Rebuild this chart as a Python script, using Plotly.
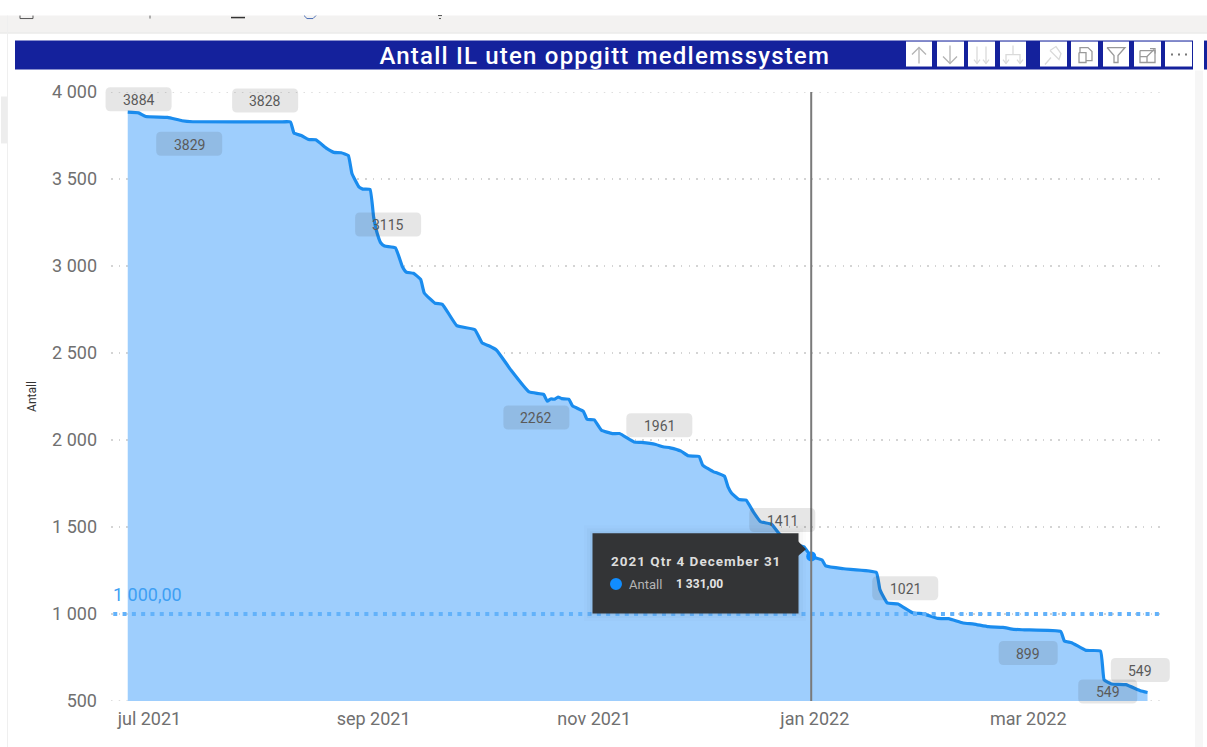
import plotly.graph_objects as go
from datetime import datetime

dates = """2021-06-25 2021-06-28 2021-06-30 2021-07-06 2021-07-10 2021-07-13 2021-08-06 2021-08-09 2021-08-10 2021-08-12 2021-08-14 2021-08-16
2021-08-19 2021-08-21 2021-08-23 2021-08-25 2021-08-26 2021-08-28 2021-08-29 2021-08-31 2021-09-01 2021-09-02
2021-09-03 2021-09-04 2021-09-07 2021-09-09 2021-09-10 2021-09-12 2021-09-14 2021-09-15 2021-09-18 2021-09-20
2021-09-24 2021-09-29 2021-10-01 2021-10-03 2021-10-05 2021-10-09 2021-10-14 2021-10-18 2021-10-19 2021-10-20
2021-10-21 2021-10-22 2021-10-23 2021-10-25 2021-10-26 2021-10-29 2021-10-30 2021-11-01 2021-11-03 2021-11-06
2021-11-08 2021-11-12 2021-11-14 2021-11-18 2021-11-20 2021-11-22 2021-11-25 2021-11-27 2021-11-30 2021-12-01
2021-12-04 2021-12-05 2021-12-07 2021-12-08 2021-12-09 2021-12-11 2021-12-13 2021-12-15 2021-12-17 2021-12-20
2021-12-22 2021-12-25 2021-12-29 2021-12-31 2022-01-03 2022-01-04 2022-01-09 2022-01-18 2022-01-19 2022-01-21
2022-01-24 2022-01-28 2022-01-31 2022-02-04 2022-02-07 2022-02-11 2022-02-14 2022-02-18 2022-02-22 2022-02-25
2022-02-28 2022-03-10 2022-03-11 2022-03-13 2022-03-17 2022-03-21 2022-03-22 2022-03-24 2022-03-28 2022-04-01
2022-04-03""".split()
antall = [3884, 3880, 3859, 3854, 3835, 3829, 3828, 3828, 3763, 3750, 3727, 3725,
          3676, 3653, 3651, 3635, 3532, 3453, 3442, 3440, 3281, 3187,
          3132, 3115, 3105, 2994, 2965, 2958, 2923, 2845, 2786, 2780,
          2657, 2634, 2558, 2540, 2516, 2401, 2276, 2262, 2223, 2236,
          2234, 2247, 2238, 2234, 2196, 2165, 2119, 2115, 2056, 2037,
          2037, 1989, 1986, 1974, 1961, 1955, 1936, 1909, 1905, 1855,
          1817, 1811, 1792, 1731, 1694, 1658, 1654, 1587, 1530, 1516,
          1465, 1411, 1386, 1331, 1310, 1277, 1260, 1239, 1140, 1064,
          1057, 1007, 1001, 975, 973, 948, 942, 927, 923, 912,
          909, 899, 845, 835, 791, 787, 621, 598, 594, 559,
          549]

label_dates = ["2021-06-28", "2021-07-12", "2021-08-02", "2021-09-05", "2021-10-16", "2021-11-19",
               "2021-12-23", "2022-01-26", "2022-03-01", "2022-04-01", "2022-03-23"]
label_values = [3884, 3829, 3828, 3115, 2262, 1961, 1411, 1021, 899, 549, 549]
label_dy = [-13, 22, -21.5, -21.5, 23, -21.5, -22.5, -22, 21.5, -22.5, -1]

threshold = 1000
threshold_label = "1 000,00"
threshold_span = ["2021-06-21", "2022-04-07"]
hover_date = "2021-12-31"
hover_value = 1331

y_ticks = [500, 1000, 1500, 2000, 2500, 3000, 3500, 4000]
y_ticktext = ["500", "1 000", "1 500", "2 000", "2 500", "3 000", "3 500", "4 000"]
x_ticks = ["2021-07-01", "2021-09-01", "2021-11-01", "2022-01-01", "2022-03-01"]
x_ticktext = ["jul 2021", "sep 2021", "nov 2021", "jan 2022", "mar 2022"]

W, H = 1207, 747
L, R, T, B = 111, 1162, 91.5, 701
X_RANGE = ["2021-06-20 09:00", "2022-04-07 00:00"]
FONT = "Roboto"
TITLE = "Antall IL uten oppgitt medlemssystem"
TIP_HEAD = "2021 Qtr 4 December 31"

def X(p): return (p - L) / (R - L)
def Y(p): return (B - p) / (B - T)

_d0 = datetime.fromisoformat(X_RANGE[0])
_d1 = datetime.fromisoformat(X_RANGE[1])
def date_px(d):
    return L + (datetime.fromisoformat(d) - _d0) / (_d1 - _d0) * (R - L)
def value_px(v):
    return B - (v - 500) / 3500 * (B - T)

shapes = []
annots = []

def rect(x0, y0, x1, y1, color, layer="above"):
    shapes.append(dict(type="rect", xref="paper", yref="paper", x0=X(x0), x1=X(x1), y0=Y(y0), y1=Y(y1),
                       fillcolor=color, line_width=0, layer=layer))

def poly(pts, color, width=1.3, close=False, fill=None):
    p = "M " + " L ".join(f"{X(a):.5f},{Y(b):.5f}" for a, b in pts) + (" Z" if close else "")
    shapes.append(dict(type="path", xref="paper", yref="paper", path=p, layer="above",
                       line=dict(color=color, width=width) if width else dict(width=0),
                       fillcolor=fill if fill else "rgba(0,0,0,0)"))

def pill(cx, cy, w, h, color, r=5):
    a, b, c, d = cx - w / 2, cx + w / 2, cy - h / 2, cy + h / 2
    f = lambda x, y: f"{X(x):.5f},{Y(y):.5f}"
    p = (f"M {f(a+r,c)} L {f(b-r,c)} Q {f(b,c)} {f(b,c+r)} L {f(b,d-r)} Q {f(b,d)} {f(b-r,d)} "
         f"L {f(a+r,d)} Q {f(a,d)} {f(a,d-r)} L {f(a,c+r)} Q {f(a,c)} {f(a+r,c)} Z")
    shapes.append(dict(type="path", xref="paper", yref="paper", path=p, fillcolor=color, line_width=0, layer="above"))

def text(px, py, s, size, color, anchor="left", weight=400):
    annots.append(dict(xref="paper", yref="paper", x=X(px), y=Y(py), text=s, showarrow=False,
                       xanchor=anchor, yanchor="middle",
                       font=dict(family=FONT, size=size, color=color, weight=weight)))

# page chrome
rect(0, 15, W, 32, "#F3F2F1", "below")
rect(0, 32, W, 33, "#E2E1E0", "below")
rect(7, 15, 8, H, "#EFEFEF", "below")
rect(1, 96, 7, 143, "#EDEDED", "below")
rect(1195, 70, 1203, H, "#F6F6F6", "below")
rect(15, 40, 1193, 69, "#14219C", "below")
rect(1204, 40, W, 69, "#14219C", "below")
poly([(20, 15), (20, 18), (33, 18), (33, 15)], "#555", 1)
poly([(150, 15), (150, 18)], "#666", 1)
poly([(231, 17), (245, 17)], "#333", 1.5)
poly([(304, 15), (307, 18), (313, 18), (316, 15)], "#4B6FB5", 1)
poly([(438, 15), (442, 15)], "#555", 1)
poly([(439, 18), (441, 18)], "#555", 1)

# header buttons
btn = [(906, 932), (937, 964), (968, 995), (1000, 1026), (1040, 1067), (1071, 1098), (1103, 1129), (1134, 1161), (1165, 1192)]
for a, b in btn:
    rect(a, 41, b, 66, "#FFFFFF")
GA, GB, GC = "#B4B4B4", "#DADADA", "#9A9A9A"
poly([(919, 63), (919, 47)], GA); poly([(912, 54), (919, 47), (926, 54)], GA)
poly([(950, 45), (950, 63)], GA); poly([(943, 56), (950, 63), (957, 56)], GA)
for c in (977, 986):
    poly([(c, 46), (c, 63)], GB); poly([(c - 3, 59), (c, 63), (c + 3, 59)], GB)
poly([(1013, 45), (1013, 54)], GB); poly([(1006, 63), (1006, 54), (1020, 54), (1020, 63)], GB)
poly([(1003, 59), (1006, 63), (1009, 59)], GB); poly([(1017, 59), (1020, 63), (1023, 59)], GB)
poly([(1045, 64), (1051, 57)], GB); poly([(1050, 50), (1059, 59), (1061, 53), (1056, 46), (1050, 50)], GB)
poly([(1080, 52), (1080, 47), (1088, 47), (1092, 51), (1092, 60), (1086, 60)], GC)
poly([(1079, 52), (1086, 52), (1086, 62), (1079, 62), (1079, 52)], GC)
poly([(1107, 47), (1125, 47), (1118, 55), (1118, 62), (1114, 62), (1114, 55), (1107, 47)], GC)
poly([(1140, 50), (1155, 50), (1155, 62), (1140, 62), (1140, 50)], GC)
poly([(1147, 62), (1147, 56), (1140, 56)], GC); poly([(1147, 56), (1154, 49)], GC); poly([(1150, 48), (1155, 48), (1155, 53)], GC)
for c in (1172, 1179, 1186):
    rect(c - 1, 53, c + 1, 55, "#777777")

text(604, 55, TITLE, 24, "#FFFFFF", "center", 500)

# gridlines at the two ends of the value range
for v in (500, 4000):
    shapes.append(dict(type="line", xref="paper", yref="y", x0=0, x1=1, y0=v, y1=v, layer="below",
                       line=dict(color="#D4D4D4", width=1.5, dash="1.5px,6.2px")))

# vertical hover line
shapes.append(dict(type="line", xref="x", yref="paper", x0=hover_date, x1=hover_date, y0=0, y1=1,
                   line=dict(color="#7A7A7A", width=2), layer="above"))

# data label pills and their text, positioned from their date and value
for d, v, dy in zip(label_dates, label_values, label_dy):
    w = 66 if v >= 1000 else 59
    pill(date_px(d), value_px(v) + dy, w, 24, "rgba(60,60,60,0.13)")
    annots.append(dict(x=d, y=v, xref="x", yref="y", text=str(v), showarrow=False, yshift=-dy - 1,
                       font=dict(family=FONT, size=14, color="#5A5A5A")))

annots.append(dict(x=threshold_span[0], y=threshold, xref="x", yref="y", text=threshold_label, showarrow=False,
                   xanchor="left", yanchor="bottom", yshift=7, xshift=-2,
                   font=dict(family=FONT, size=18, color="#3E9FF3")))

# tooltip
for g, a in ((8, 0.012), (5, 0.02), (2, 0.03)):
    rect(592 - g, 533 - g, 798 + g, 613 + g, f"rgba(0,0,0,{a})")
rect(592.5, 533, 798.5, 613.5, "#333436")
poly([(798, 541), (806, 549), (798, 556)], "#333436", 0, True, "#333436")
shapes.append(dict(type="circle", xref="paper", yref="paper", x0=X(610), x1=X(622), y0=Y(578), y1=Y(590),
                   fillcolor="#118DFF", line_width=0, layer="above"))
text(619.5, 561, TIP_HEAD, 13.5, "#DDDDDD", "left", 700)
text(627, 584, "Antall", 13, "#B5B5B5")
text(674, 584, "1 331,00", 12, "#E4E4E4", "left", 700)

fig = go.Figure()
fig.add_trace(go.Scatter(x=dates, y=antall, mode="lines", fill="tozeroy", fillcolor="#9ECEFD",
                         line=dict(color="#1A8CEE", width=3.2, shape="spline", smoothing=0.35), hoverinfo="skip"))
fig.add_trace(go.Scatter(x=threshold_span, y=[threshold, threshold], mode="lines",
                         line=dict(color="#63B2FA", width=3.8, dash="4px,5.3px"), hoverinfo="skip"))
fig.add_trace(go.Scatter(x=[hover_date], y=[hover_value], mode="markers",
                         marker=dict(color="#118DFF", size=10), hoverinfo="skip", cliponaxis=False))

fig.update_layout(
    width=W, height=H, autosize=False, showlegend=False, hovermode=False,
    margin=dict(l=L, r=W - R, t=T, b=H - B, pad=0),
    paper_bgcolor="#FFFFFF", plot_bgcolor="#FFFFFF",
    font=dict(family=FONT, color="#666666"),
    shapes=shapes, annotations=annots,
    xaxis=dict(type="date", range=X_RANGE, tickmode="array", tickvals=x_ticks, ticktext=x_ticktext,
               showgrid=False, zeroline=False, showline=False, ticks="", ticklabelstandoff=5,
               tickfont=dict(family=FONT, size=18, color="#707070")),
    yaxis=dict(range=[500, 4000], tickmode="array", tickvals=y_ticks, ticktext=y_ticktext,
               showgrid=True, gridcolor="#D4D4D4", gridwidth=1.5, griddash="1.5px,6.2px",
               zeroline=False, showline=False, ticks="", ticklabelstandoff=13,
               tickfont=dict(family=FONT, size=18, color="#707070"),
               title=dict(text="Antall", standoff=12, font=dict(family=FONT, size=12, color="#333333"))),
)

spacing = {TITLE: "1.2px", TIP_HEAD: "1px"}
post = ("document.body.style.margin='0';document.body.style.overflow='hidden';"
        "var sp=" + repr(spacing) + ";"
        "document.querySelectorAll('.annotation-text').forEach(function(t){"
        "if(sp[t.textContent]){t.style.letterSpacing=sp[t.textContent];}});")
fig.write_html("out.html", config=dict(displayModeBar=False), post_script=post)
